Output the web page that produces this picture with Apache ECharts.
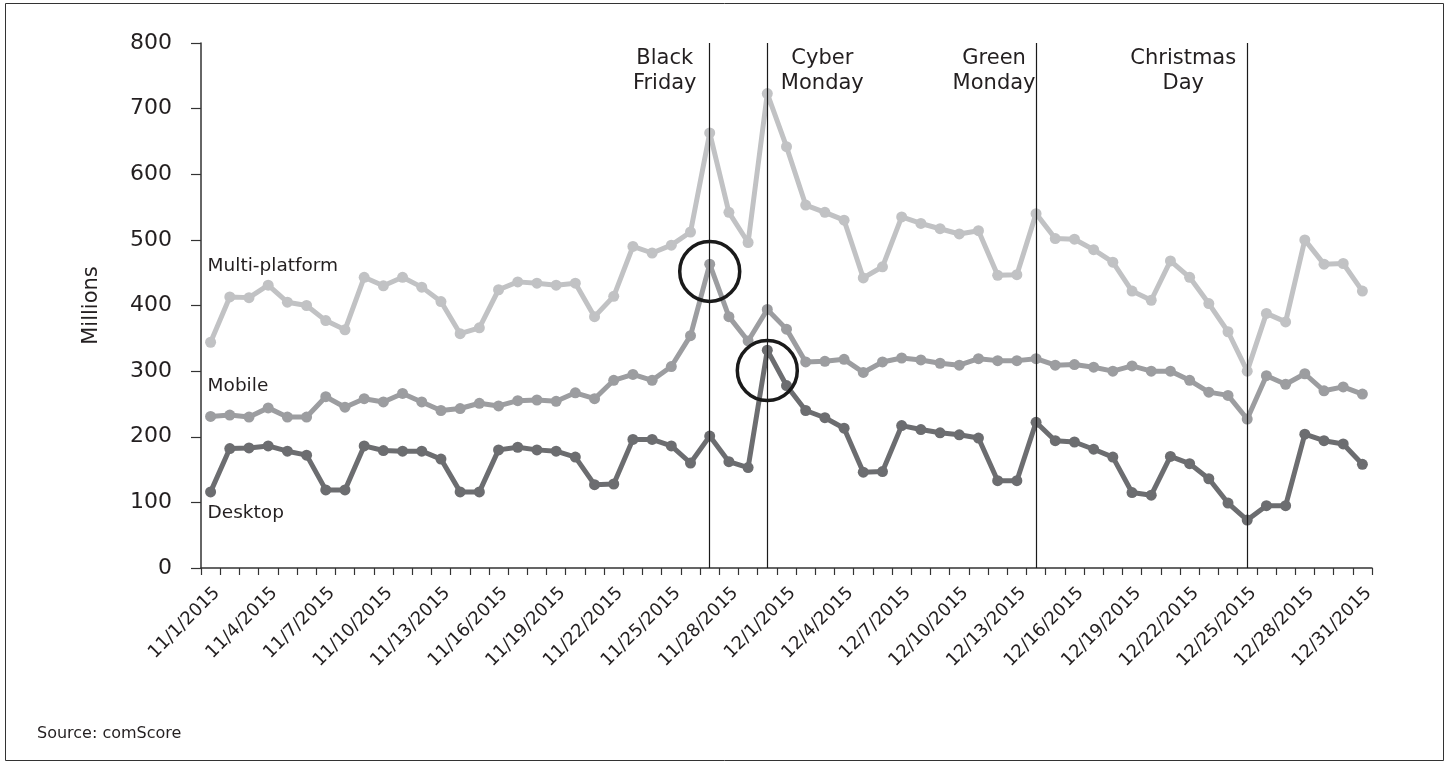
<!DOCTYPE html>
<html>
<head>
<meta charset="utf-8">
<title>Daily unique visitors, Nov–Dec 2015</title>
<script src="https://cdn.jsdelivr.net/npm/echarts@6/dist/echarts.min.js"></script>
<style>
  html, body { margin: 0; padding: 0; background: #fff; }
  #chart { width: 1449px; height: 765px; }
</style>
</head>
<body>
<div id="chart"></div>
<script>
// Days of November and December 2015
const dates = [
  '11/1/2015','11/2/2015','11/3/2015','11/4/2015','11/5/2015','11/6/2015','11/7/2015','11/8/2015',
  '11/9/2015','11/10/2015','11/11/2015','11/12/2015','11/13/2015','11/14/2015','11/15/2015','11/16/2015',
  '11/17/2015','11/18/2015','11/19/2015','11/20/2015','11/21/2015','11/22/2015','11/23/2015','11/24/2015',
  '11/25/2015','11/26/2015','11/27/2015','11/28/2015','11/29/2015','11/30/2015',
  '12/1/2015','12/2/2015','12/3/2015','12/4/2015','12/5/2015','12/6/2015','12/7/2015','12/8/2015',
  '12/9/2015','12/10/2015','12/11/2015','12/12/2015','12/13/2015','12/14/2015','12/15/2015','12/16/2015',
  '12/17/2015','12/18/2015','12/19/2015','12/20/2015','12/21/2015','12/22/2015','12/23/2015','12/24/2015',
  '12/25/2015','12/26/2015','12/27/2015','12/28/2015','12/29/2015','12/30/2015','12/31/2015'
];

// Visitors in millions
const multiPlatform = [
  344, 413, 412, 431, 405, 400, 377, 363, 443, 430, 443, 428, 406, 357, 366, 424,
  436, 434, 431, 434, 383, 414, 490, 480, 492, 512, 663, 542, 496, 723,
  642, 553, 542, 530, 442, 459, 535, 525, 517, 509, 514, 446, 447, 540, 502, 501,
  485, 466, 422, 408, 468, 443, 403, 360, 300, 388, 375, 500, 463, 464, 422
];
const mobile = [
  231, 233, 230, 244, 230, 230, 261, 245, 258, 253, 266, 253, 240, 243, 251, 247,
  255, 256, 254, 267, 258, 286, 295, 286, 307, 354, 463, 383, 346, 394,
  364, 314, 315, 318, 298, 314, 320, 317, 312, 309, 319, 316, 316, 319, 309, 310,
  306, 300, 308, 300, 300, 286, 268, 263, 227, 293, 280, 296, 270, 276, 265
];
const desktop = [
  116, 182, 183, 186, 178, 172, 119, 119, 186, 179, 178, 178, 166, 116, 116, 180,
  184, 180, 178, 169, 127, 128, 196, 196, 186, 160, 201, 162, 153, 332,
  278, 240, 229, 213, 146, 147, 217, 211, 206, 203, 198, 133, 133, 222, 194, 192,
  181, 169, 115, 111, 170, 159, 136, 99, 73, 95, 95, 204, 194, 189, 158
];

const yTicks = [0, 100, 200, 300, 400, 500, 600, 700, 800];

// Shopping days marked with vertical rules
const eventDays = ['11/27/2015', '11/30/2015', '12/14/2015', '12/25/2015'];
const eventNames = ['Black\nFriday', 'Cyber\nMonday', 'Green\nMonday', 'Christmas\nDay'];
const eventLabelShift = [-45, 55, -42, -64];
const eventLabelLevel = 757;

// Highlighted peaks: [day, centre value]
const mobileRing = ['11/27/2015', 452];
const desktopRing = ['11/30/2015', 301];

// In-plot series names: [series, anchor day, value]
const seriesTags = [
  ['Multi-platform', '11/1/2015', 460],
  ['Mobile', '11/1/2015', 277],
  ['Desktop', '11/1/2015', 83]
];

const FONT = 'DejaVu Sans, Liberation Sans, sans-serif';
const INK = '#231f20';
const colors = { 'Multi-platform': '#c1c2c4', 'Mobile': '#9c9da0', 'Desktop': '#6c6d70' };

function tagPoint(name) {
  const t = seriesTags.find(s => s[0] === name);
  return {
    coord: [t[1], t[2]],
    symbol: 'rect',
    symbolSize: 1,
    itemStyle: { color: 'rgba(0,0,0,0)' },
    label: {
      show: true, position: 'inside', align: 'left', offset: [-3, 0],
      formatter: name, fontFamily: FONT, fontSize: 18.5, color: INK
    }
  };
}

function ring(c) {
  return {
    coord: c,
    symbol: 'circle',
    symbolSize: 60,
    itemStyle: { color: 'rgba(0,0,0,0)', borderColor: '#1a1a1a', borderWidth: 3.5 },
    label: { show: false }
  };
}

function lineSeries(name, data, extra) {
  return Object.assign({
    name: name,
    type: 'line',
    data: data,
    symbol: 'circle',
    symbolSize: 11,
    showSymbol: true,
    lineStyle: { width: 5, color: colors[name] },
    itemStyle: { color: colors[name] },
    silent: true,
    animation: false
  }, extra || {});
}

const eventLabels = eventDays.map((d, i) => ({
  coord: [d, eventLabelLevel],
  symbol: 'rect',
  symbolSize: 1,
  itemStyle: { color: 'rgba(0,0,0,0)' },
  label: {
    show: true, position: 'inside', align: 'center', verticalAlign: 'middle',
    offset: [eventLabelShift[i], 0],
    formatter: eventNames[i], fontFamily: FONT, fontSize: 21, lineHeight: 25, color: INK
  }
}));

const chart = echarts.init(document.getElementById('chart'), null, { renderer: 'canvas' });

chart.setOption({
  backgroundColor: '#fff',
  animation: false,
  grid: { left: 201, right: 77, top: 43, bottom: 197 },
  xAxis: {
    type: 'category',
    data: dates,
    boundaryGap: true,
    axisLine: { lineStyle: { color: '#333', width: 1.5 } },
    axisTick: { show: true, interval: 0, length: 7, lineStyle: { color: '#333', width: 1.2 } },
    axisLabel: {
      interval: 2, rotate: 45, margin: 16, verticalAlign: 'top',
      fontFamily: FONT, fontSize: 18, color: INK
    },
    splitLine: { show: false }
  },
  yAxis: {
    type: 'value',
    min: yTicks[0],
    max: yTicks[yTicks.length - 1],
    interval: yTicks[1] - yTicks[0],
    name: 'Millions',
    nameLocation: 'middle',
    nameGap: 99,
    nameTextStyle: { fontFamily: FONT, fontSize: 21, color: INK },
    axisLine: { show: true, lineStyle: { color: '#333', width: 1.5 } },
    axisTick: { show: true, length: 10, lineStyle: { color: '#333', width: 1.2 } },
    axisLabel: { margin: 29, fontFamily: FONT, fontSize: 22, color: INK },
    splitLine: { show: false }
  },
  graphic: [
    {
      type: 'rect', silent: true, z: -1,
      shape: { x: 5.5, y: 3.5, width: 1438, height: 757 },
      style: { fill: 'none', stroke: '#333', lineWidth: 1 }
    },
    {
      type: 'text', left: 37, top: 726, silent: true,
      style: { text: 'Source: comScore', fontFamily: FONT, fontSize: 16, fill: INK }
    }
  ],
  series: [
    lineSeries('Multi-platform', multiPlatform, {
      z: 2,
      markPoint: { silent: true, animation: false, data: [tagPoint('Multi-platform')].concat(eventLabels) }
    }),
    lineSeries('Mobile', mobile, {
      z: 3,
      markPoint: { silent: true, animation: false, data: [tagPoint('Mobile'), ring(mobileRing)] }
    }),
    lineSeries('Desktop', desktop, {
      z: 4,
      markPoint: { silent: true, animation: false, data: [tagPoint('Desktop'), ring(desktopRing)] },
      markLine: {
        silent: true, animation: false, symbol: 'none',
        label: { show: false },
        lineStyle: { color: '#1a1a1a', width: 1.2, type: 'solid' },
        data: eventDays.map(d => ({ xAxis: d }))
      }
    })
  ]
});
</script>
</body>
</html>
